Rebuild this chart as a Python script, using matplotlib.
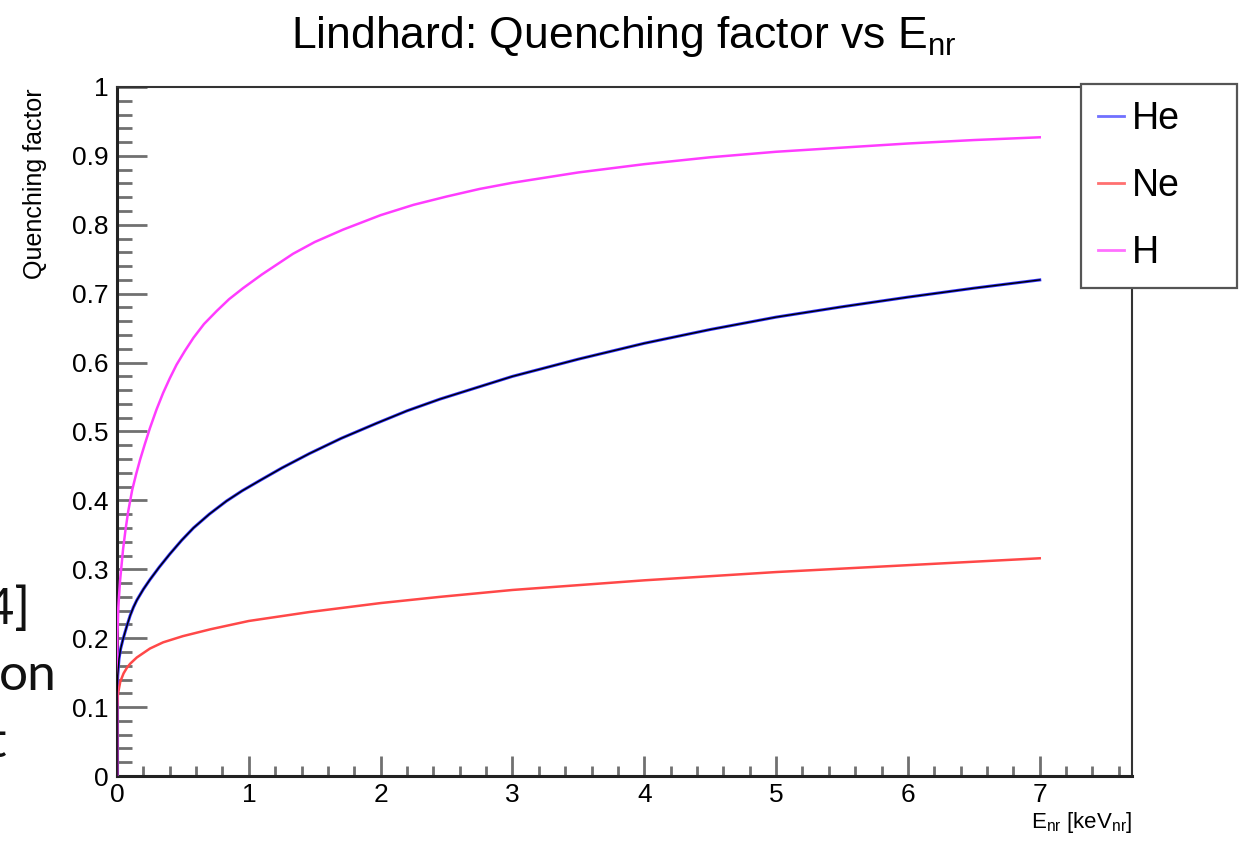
import matplotlib
matplotlib.use('Agg')
import matplotlib.pyplot as plt
from matplotlib.ticker import MultipleLocator, FormatStrFormatter
from matplotlib.lines import Line2D

plt.rcParams['font.family'] = ['Liberation Sans', 'DejaVu Sans']
plt.rcParams['mathtext.fontset'] = 'custom'
plt.rcParams['mathtext.rm'] = 'Liberation Sans'
plt.rcParams['mathtext.it'] = 'Liberation Sans:italic'
plt.rcParams['mathtext.bf'] = 'Liberation Sans:bold'

# ---- data ----
energy_h = [0, 0.001, 0.003, 0.01, 0.023, 0.046, 0.065, 0.085, 0.115, 0.145, 0.175, 0.21,
            0.25, 0.3, 0.35, 0.4, 0.452, 0.515, 0.58, 0.66, 0.757, 0.85, 0.956, 1.1,
            1.336, 1.5, 1.715, 2.0, 2.25, 2.5, 2.75, 3.0, 3.5, 4.0, 4.5, 5.0, 5.5, 6.0,
            6.5, 7.0]
qf_h = [0, 0.15, 0.205, 0.245, 0.283, 0.329, 0.358, 0.384, 0.415, 0.438, 0.459, 0.481,
        0.505, 0.532, 0.556, 0.577, 0.597, 0.617, 0.636, 0.656, 0.675, 0.692, 0.708, 0.728,
        0.758, 0.775, 0.793, 0.814, 0.829, 0.841, 0.852, 0.861, 0.876, 0.888, 0.898, 0.906,
        0.912, 0.918, 0.923, 0.927]

energy_he = [0, 0.001, 0.005, 0.015, 0.028, 0.045, 0.06, 0.08, 0.1, 0.125, 0.15, 0.2,
             0.25, 0.32, 0.4, 0.49, 0.58, 0.7, 0.83, 0.95, 1.085, 1.25, 1.46, 1.7, 1.97,
             2.2, 2.45, 2.75, 3.0, 3.5, 4.0, 4.5, 5.0, 5.5, 6.0, 6.5, 7.0]
qf_he = [0, 0.12, 0.145, 0.17, 0.185, 0.198, 0.208, 0.221, 0.233, 0.245, 0.255, 0.271,
         0.285, 0.303, 0.322, 0.342, 0.36, 0.38, 0.399, 0.414, 0.429, 0.447, 0.468, 0.49,
         0.512, 0.53, 0.547, 0.565, 0.58, 0.605, 0.628, 0.648, 0.666, 0.681, 0.695,
         0.708, 0.72]

energy_ne = [0, 0.001, 0.005, 0.01, 0.025, 0.05, 0.075, 0.1, 0.15, 0.25, 0.35, 0.5, 0.71,
             1.0, 1.46, 2.0, 2.45, 3.0, 3.5, 4.0, 4.5, 5.0, 5.5, 6.0, 6.5, 7.0]
qf_ne = [0, 0.1, 0.115, 0.122, 0.137, 0.149, 0.157, 0.163, 0.172, 0.185, 0.194, 0.203,
         0.213, 0.225, 0.238, 0.251, 0.26, 0.27, 0.277, 0.284, 0.29, 0.296, 0.301, 0.306,
         0.311, 0.316]

legend_labels = ['He', 'Ne', 'H']
x_ticks = [0, 1, 2, 3, 4, 5, 6, 7]

W, H = 1243, 842
fig = plt.figure(figsize=(W / 100, H / 100), dpi=100)
ax = fig.add_axes([117 / W, 66 / H, 1015 / W, 689 / H])

ax.plot(energy_he, qf_he, color='#3030ff', lw=2.2, zorder=3)
ax.plot(energy_he, qf_he, color='black', lw=1.0, zorder=4)
ax.plot(energy_ne, qf_ne, color='#ff4848', lw=1.8, zorder=3)
ax.plot(energy_h, qf_h, color='#ff3cff', lw=1.8, zorder=3)

ax.set_xlim(0, 7.7)
ax.set_ylim(0, 1)
ax.set_xticks(x_ticks)
ax.xaxis.set_minor_locator(MultipleLocator(0.2))
ax.yaxis.set_major_locator(MultipleLocator(0.1))
ax.yaxis.set_minor_locator(MultipleLocator(0.02))
ax.yaxis.set_major_formatter(FormatStrFormatter('%g'))

tick_col = '#707070'
ax.tick_params(axis='x', which='major', direction='in', length=14.4, width=2.0,
               color=tick_col, labelsize=19, pad=5)
ax.tick_params(axis='x', which='minor', direction='in', length=7.2, width=2.0, color=tick_col)
ax.tick_params(axis='y', which='major', direction='in', length=21.6, width=2.0,
               color=tick_col, labelsize=19, pad=6)
ax.tick_params(axis='y', which='minor', direction='in', length=10.8, width=2.0, color=tick_col)

for side in ['left', 'bottom']:
    ax.spines[side].set_linewidth(2.2)
    ax.spines[side].set_color('#222222')
for side in ['top', 'right']:
    ax.spines[side].set_linewidth(1.5)
    ax.spines[side].set_color('#333333')

# title
fig.text(624 / W, 1 - 48 / H, r'Lindhard: Quenching factor vs E$_{\mathrm{nr}}$',
         ha='center', va='baseline', fontsize=32)
# axis titles
fig.text(35 / W, 1 - 88 / H, 'Quenching factor', rotation=90, ha='center', va='top',
         fontsize=18)
fig.text(1132 / W, 1 - 828 / H, r'E$_{\mathrm{nr}}$ [keV$_{\mathrm{nr}}$]',
         ha='right', va='baseline', fontsize=16)

# legend
handles = [Line2D([], [], color='#7070ff', lw=2),
           Line2D([], [], color='#ff7070', lw=2),
           Line2D([], [], color='#ff70ff', lw=2)]
leg = ax.legend(handles, legend_labels, loc='upper left',
                bbox_to_anchor=(1081 / W, 1 - 84 / H - 0.0001, 156 / W, 0.0001),
                bbox_transform=fig.transFigure, mode='expand', borderaxespad=0,
                fontsize=27, handlelength=0.7, handletextpad=0.2, labelspacing=0.83,
                borderpad=0.45, fancybox=False, framealpha=1)
leg.get_frame().set_edgecolor('#555555')
leg.get_frame().set_linewidth(1.6)

# leftover slide text behind the plot (cut off at the left edge)
side_font = dict(family=['Lato', 'DejaVu Sans'], weight='normal', fontsize=37, color='#111111')
fig.text(30 / W, 1 - 624 / H, '[4]', ha='right', va='baseline', **side_font)
fig.text(-1 / W, 1 - 690 / H, 'on', ha='left', va='baseline', **side_font)
fig.text(6 / W, 1 - 757 / H, 't', ha='right', va='baseline', **side_font)

fig.savefig('out.png', dpi=100)
